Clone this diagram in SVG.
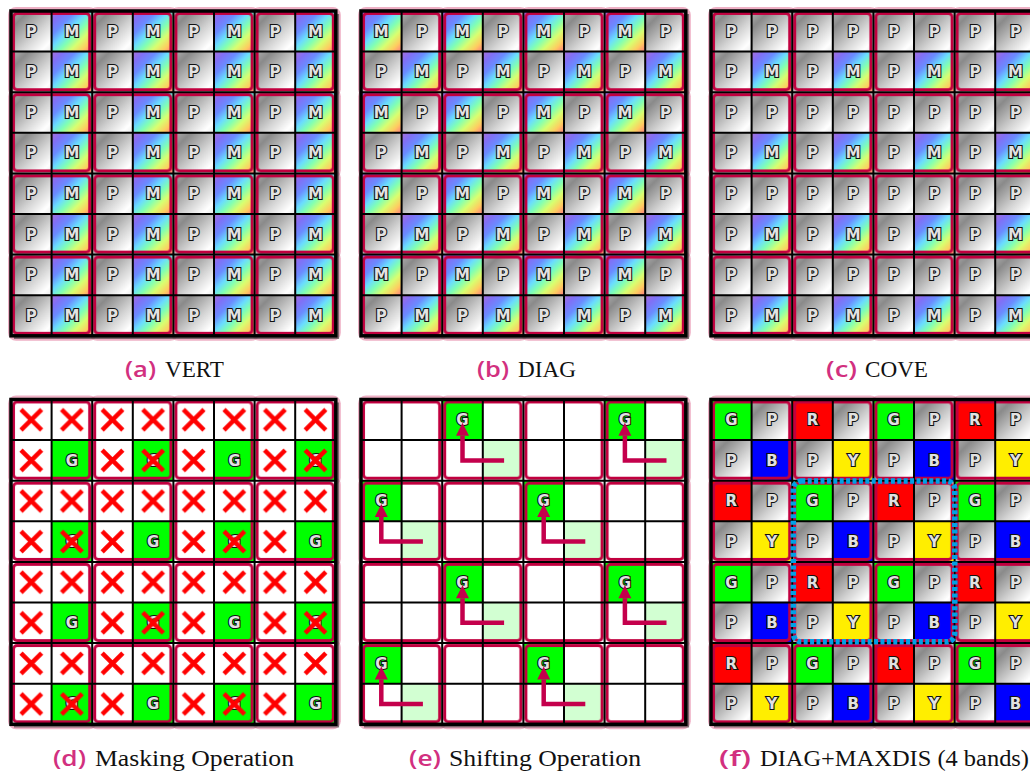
<svg xmlns="http://www.w3.org/2000/svg" xmlns:xlink="http://www.w3.org/1999/xlink" width="1030" height="773" viewBox="0 0 1030 773">
<style>
.t{font-family:'DejaVu Sans',sans-serif;font-weight:bold;font-size:15px;fill:#e2e2e2;stroke:#111;stroke-width:2.2;paint-order:stroke;text-anchor:middle}
.cap{font-family:'Liberation Serif',serif;font-size:23px;fill:#111}
.lab{font-family:'Open Sans','Liberation Sans',sans-serif;font-weight:600;font-size:21px;fill:#d2307f}
.arrow{fill:none;stroke:#c4004c;stroke-width:4.5;stroke-linejoin:miter;marker-end:url(#ah)}
</style>
<defs>
<linearGradient id="gP" x1="0" y1="0" x2="1" y2="1">
<stop offset="0" stop-color="#b0b0b0"/>
<stop offset="0.22" stop-color="#8a8a8a"/>
<stop offset="0.6" stop-color="#d4d4d4"/>
<stop offset="0.86" stop-color="#ffffff"/>
<stop offset="1" stop-color="#ececec"/>
</linearGradient>
<linearGradient id="gM" x1="0" y1="0" x2="1" y2="1">
<stop offset="0" stop-color="#a86ed8"/>
<stop offset="0.15" stop-color="#8070f6"/>
<stop offset="0.3" stop-color="#6a8cff"/>
<stop offset="0.45" stop-color="#6adcff"/>
<stop offset="0.58" stop-color="#80ffb4"/>
<stop offset="0.72" stop-color="#d8ff70"/>
<stop offset="0.86" stop-color="#ffcc60"/>
<stop offset="1" stop-color="#ff7a80"/>
</linearGradient>
<rect id="cP" width="40.6" height="40.6" fill="url(#gP)"/>
<rect id="cM" width="40.6" height="40.6" fill="url(#gM)"/>
<marker id="ah" markerUnits="userSpaceOnUse" markerWidth="14" markerHeight="14" refX="0" refY="6.5" orient="auto" overflow="visible">
<path d="M0 0L13 6.5L0 13z" fill="#c4004c"/>
</marker>
<pattern id="pVert" width="81.2" height="81.2" patternUnits="userSpaceOnUse">
<use href="#cP" x="0" y="0"/><use href="#cM" x="40.6" y="0"/><use href="#cP" x="0" y="40.6"/><use href="#cM" x="40.6" y="40.6"/>
</pattern>
<pattern id="pDiag" width="81.2" height="81.2" patternUnits="userSpaceOnUse">
<use href="#cM" x="0" y="0"/><use href="#cP" x="40.6" y="0"/><use href="#cP" x="0" y="40.6"/><use href="#cM" x="40.6" y="40.6"/>
</pattern>
<pattern id="pCove" width="81.2" height="81.2" patternUnits="userSpaceOnUse">
<use href="#cP" x="0" y="0"/><use href="#cP" x="40.6" y="0"/><use href="#cP" x="0" y="40.6"/><use href="#cM" x="40.6" y="40.6"/>
</pattern>
<pattern id="pMask" width="81.2" height="81.2" patternUnits="userSpaceOnUse">
<rect width="81.2" height="81.2" fill="#fff"/><rect x="40.6" y="40.6" width="40.6" height="40.6" fill="#00ff00"/>
</pattern>
<pattern id="pX" width="40.6" height="40.6" patternUnits="userSpaceOnUse">
<path d="M10 10L30.6 30.6M30.6 10L10 30.6" stroke="#ff0000" stroke-width="4.5"/>
</pattern>
<pattern id="pF" width="162.4" height="162.4" patternUnits="userSpaceOnUse">
<rect x="0" y="0" width="40.6" height="40.6" fill="#00ff00"/><use href="#cP" x="40.6" y="0"/><rect x="81.2" y="0" width="40.6" height="40.6" fill="#ff0000"/><use href="#cP" x="121.8" y="0"/>
<use href="#cP" x="0" y="40.6"/><rect x="40.6" y="40.6" width="40.6" height="40.6" fill="#0000ff"/><use href="#cP" x="81.2" y="40.6"/><rect x="121.8" y="40.6" width="40.6" height="40.6" fill="#ffee00"/>
<rect x="0" y="81.2" width="40.6" height="40.6" fill="#ff0000"/><use href="#cP" x="40.6" y="81.2"/><rect x="81.2" y="81.2" width="40.6" height="40.6" fill="#00ff00"/><use href="#cP" x="121.8" y="81.2"/>
<use href="#cP" x="0" y="121.8"/><rect x="40.6" y="121.8" width="40.6" height="40.6" fill="#ffee00"/><use href="#cP" x="81.2" y="121.8"/><rect x="121.8" y="121.8" width="40.6" height="40.6" fill="#0000ff"/>
</pattern>
<pattern id="pBlk" width="81.2" height="81.2" patternUnits="userSpaceOnUse">
<rect x="2.5" y="2.5" width="76.2" height="76.2" rx="3.5" fill="none" stroke="#c1003f" stroke-width="3"/>
</pattern>
<g id="glow" fill="#e07095" fill-opacity="0.55">
<rect x="-3" y="-4" width="89.2" height="90.2" rx="8"/><rect x="78.2" y="-4" width="89.2" height="90.2" rx="8"/><rect x="159.4" y="-4" width="89.2" height="90.2" rx="8"/><rect x="240.6" y="-4" width="89.2" height="90.2" rx="8"/>
<rect x="-3" y="77.2" width="89.2" height="90.2" rx="8"/><rect x="240.6" y="77.2" width="89.2" height="90.2" rx="8"/>
<rect x="-3" y="158.4" width="89.2" height="90.2" rx="8"/><rect x="240.6" y="158.4" width="89.2" height="90.2" rx="8"/>
<rect x="-3" y="239.6" width="89.2" height="90.2" rx="8"/><rect x="78.2" y="239.6" width="89.2" height="90.2" rx="8"/><rect x="159.4" y="239.6" width="89.2" height="90.2" rx="8"/><rect x="240.6" y="239.6" width="89.2" height="90.2" rx="8"/>
</g>
<g id="frame">
<rect width="324.8" height="324.8" fill="url(#pBlk)"/>
<path d="M40.6 0V324.8M81.2 0V324.8M121.8 0V324.8M162.4 0V324.8M203 0V324.8M243.6 0V324.8M284.2 0V324.8M0 40.6H324.8M0 81.2H324.8M0 121.8H324.8M0 162.4H324.8M0 203H324.8M0 243.6H324.8M0 284.2H324.8" fill="none" stroke="#000" stroke-width="2"/>
<path d="M326.6 3V326.6H3" fill="none" stroke="#333" stroke-opacity="0.6" stroke-width="3"/>
<rect width="324.8" height="324.8" fill="none" stroke="#000" stroke-width="3.5"/>
</g>
</defs>
<rect width="1030" height="773" fill="#fff"/>

<g id="panel-a" transform="translate(11,11)">
<use href="#glow"/>
<rect width="324.8" height="324.8" fill="url(#pVert)"/>
<use href="#frame"/>
<g class="t">
<g transform="translate(0,25.6)"><text x="20.3">P</text><text x="60.9">M</text><text x="101.5">P</text><text x="142.1">M</text><text x="182.7">P</text><text x="223.3">M</text><text x="263.9">P</text><text x="304.5">M</text></g>
<g transform="translate(0,66.2)"><text x="20.3">P</text><text x="60.9">M</text><text x="101.5">P</text><text x="142.1">M</text><text x="182.7">P</text><text x="223.3">M</text><text x="263.9">P</text><text x="304.5">M</text></g>
<g transform="translate(0,106.8)"><text x="20.3">P</text><text x="60.9">M</text><text x="101.5">P</text><text x="142.1">M</text><text x="182.7">P</text><text x="223.3">M</text><text x="263.9">P</text><text x="304.5">M</text></g>
<g transform="translate(0,147.4)"><text x="20.3">P</text><text x="60.9">M</text><text x="101.5">P</text><text x="142.1">M</text><text x="182.7">P</text><text x="223.3">M</text><text x="263.9">P</text><text x="304.5">M</text></g>
<g transform="translate(0,188)"><text x="20.3">P</text><text x="60.9">M</text><text x="101.5">P</text><text x="142.1">M</text><text x="182.7">P</text><text x="223.3">M</text><text x="263.9">P</text><text x="304.5">M</text></g>
<g transform="translate(0,228.6)"><text x="20.3">P</text><text x="60.9">M</text><text x="101.5">P</text><text x="142.1">M</text><text x="182.7">P</text><text x="223.3">M</text><text x="263.9">P</text><text x="304.5">M</text></g>
<g transform="translate(0,269.2)"><text x="20.3">P</text><text x="60.9">M</text><text x="101.5">P</text><text x="142.1">M</text><text x="182.7">P</text><text x="223.3">M</text><text x="263.9">P</text><text x="304.5">M</text></g>
<g transform="translate(0,309.8)"><text x="20.3">P</text><text x="60.9">M</text><text x="101.5">P</text><text x="142.1">M</text><text x="182.7">P</text><text x="223.3">M</text><text x="263.9">P</text><text x="304.5">M</text></g>
</g>
</g>

<g id="panel-b" transform="translate(361,11)">
<use href="#glow"/>
<rect width="324.8" height="324.8" fill="url(#pDiag)"/>
<use href="#frame"/>
<g class="t">
<g transform="translate(0,25.6)"><text x="20.3">M</text><text x="60.9">P</text><text x="101.5">M</text><text x="142.1">P</text><text x="182.7">M</text><text x="223.3">P</text><text x="263.9">M</text><text x="304.5">P</text></g>
<g transform="translate(0,66.2)"><text x="20.3">P</text><text x="60.9">M</text><text x="101.5">P</text><text x="142.1">M</text><text x="182.7">P</text><text x="223.3">M</text><text x="263.9">P</text><text x="304.5">M</text></g>
<g transform="translate(0,106.8)"><text x="20.3">M</text><text x="60.9">P</text><text x="101.5">M</text><text x="142.1">P</text><text x="182.7">M</text><text x="223.3">P</text><text x="263.9">M</text><text x="304.5">P</text></g>
<g transform="translate(0,147.4)"><text x="20.3">P</text><text x="60.9">M</text><text x="101.5">P</text><text x="142.1">M</text><text x="182.7">P</text><text x="223.3">M</text><text x="263.9">P</text><text x="304.5">M</text></g>
<g transform="translate(0,188)"><text x="20.3">M</text><text x="60.9">P</text><text x="101.5">M</text><text x="142.1">P</text><text x="182.7">M</text><text x="223.3">P</text><text x="263.9">M</text><text x="304.5">P</text></g>
<g transform="translate(0,228.6)"><text x="20.3">P</text><text x="60.9">M</text><text x="101.5">P</text><text x="142.1">M</text><text x="182.7">P</text><text x="223.3">M</text><text x="263.9">P</text><text x="304.5">M</text></g>
<g transform="translate(0,269.2)"><text x="20.3">M</text><text x="60.9">P</text><text x="101.5">M</text><text x="142.1">P</text><text x="182.7">M</text><text x="223.3">P</text><text x="263.9">M</text><text x="304.5">P</text></g>
<g transform="translate(0,309.8)"><text x="20.3">P</text><text x="60.9">M</text><text x="101.5">P</text><text x="142.1">M</text><text x="182.7">P</text><text x="223.3">M</text><text x="263.9">P</text><text x="304.5">M</text></g>
</g>
</g>

<g id="panel-c" transform="translate(711,11)">
<use href="#glow"/>
<rect width="324.8" height="324.8" fill="url(#pCove)"/>
<use href="#frame"/>
<g class="t">
<g transform="translate(0,25.6)"><text x="20.3">P</text><text x="60.9">P</text><text x="101.5">P</text><text x="142.1">P</text><text x="182.7">P</text><text x="223.3">P</text><text x="263.9">P</text><text x="304.5">P</text></g>
<g transform="translate(0,66.2)"><text x="20.3">P</text><text x="60.9">M</text><text x="101.5">P</text><text x="142.1">M</text><text x="182.7">P</text><text x="223.3">M</text><text x="263.9">P</text><text x="304.5">M</text></g>
<g transform="translate(0,106.8)"><text x="20.3">P</text><text x="60.9">P</text><text x="101.5">P</text><text x="142.1">P</text><text x="182.7">P</text><text x="223.3">P</text><text x="263.9">P</text><text x="304.5">P</text></g>
<g transform="translate(0,147.4)"><text x="20.3">P</text><text x="60.9">M</text><text x="101.5">P</text><text x="142.1">M</text><text x="182.7">P</text><text x="223.3">M</text><text x="263.9">P</text><text x="304.5">M</text></g>
<g transform="translate(0,188)"><text x="20.3">P</text><text x="60.9">P</text><text x="101.5">P</text><text x="142.1">P</text><text x="182.7">P</text><text x="223.3">P</text><text x="263.9">P</text><text x="304.5">P</text></g>
<g transform="translate(0,228.6)"><text x="20.3">P</text><text x="60.9">M</text><text x="101.5">P</text><text x="142.1">M</text><text x="182.7">P</text><text x="223.3">M</text><text x="263.9">P</text><text x="304.5">M</text></g>
<g transform="translate(0,269.2)"><text x="20.3">P</text><text x="60.9">P</text><text x="101.5">P</text><text x="142.1">P</text><text x="182.7">P</text><text x="223.3">P</text><text x="263.9">P</text><text x="304.5">P</text></g>
<g transform="translate(0,309.8)"><text x="20.3">P</text><text x="60.9">M</text><text x="101.5">P</text><text x="142.1">M</text><text x="182.7">P</text><text x="223.3">M</text><text x="263.9">P</text><text x="304.5">M</text></g>
</g>
</g>

<g id="panel-d" transform="translate(11,399.5)">
<use href="#glow"/>
<rect width="324.8" height="324.8" fill="url(#pMask)"/>
<g class="t">
<text x="142.1" y="66.2">G</text><text x="304.5" y="66.2">G</text>
<text x="60.9" y="147.4">G</text><text x="223.3" y="147.4">G</text>
<text x="142.1" y="228.6">G</text><text x="304.5" y="228.6">G</text>
<text x="60.9" y="309.8">G</text><text x="223.3" y="309.8">G</text>
</g>
<rect width="324.8" height="324.8" fill="url(#pX)"/>
<g fill="#00ff00">
<rect x="40.6" y="40.6" width="40.6" height="40.6"/><rect x="203" y="40.6" width="40.6" height="40.6"/>
<rect x="121.8" y="121.8" width="40.6" height="40.6"/><rect x="284.2" y="121.8" width="40.6" height="40.6"/>
<rect x="40.6" y="203" width="40.6" height="40.6"/><rect x="203" y="203" width="40.6" height="40.6"/>
<rect x="121.8" y="284.2" width="40.6" height="40.6"/><rect x="284.2" y="284.2" width="40.6" height="40.6"/>
</g>
<use href="#frame"/>
<g class="t">
<text x="60.9" y="66.2">G</text><text x="223.3" y="66.2">G</text>
<text x="142.1" y="147.4">G</text><text x="304.5" y="147.4">G</text>
<text x="60.9" y="228.6">G</text><text x="223.3" y="228.6">G</text>
<text x="142.1" y="309.8">G</text><text x="304.5" y="309.8">G</text>
</g>
</g>

<g id="panel-e" transform="translate(361,399.5)">
<use href="#glow"/>
<rect width="324.8" height="324.8" fill="#fff"/>
<g fill="#00ff00">
<rect x="81.2" y="0" width="40.6" height="40.6"/><rect x="243.6" y="0" width="40.6" height="40.6"/>
<rect x="0" y="81.2" width="40.6" height="40.6"/><rect x="162.4" y="81.2" width="40.6" height="40.6"/>
<rect x="81.2" y="162.4" width="40.6" height="40.6"/><rect x="243.6" y="162.4" width="40.6" height="40.6"/>
<rect x="0" y="243.6" width="40.6" height="40.6"/><rect x="162.4" y="243.6" width="40.6" height="40.6"/>
</g>
<g fill="#d2ffd2">
<rect x="121.8" y="40.6" width="40.6" height="40.6"/><rect x="284.2" y="40.6" width="40.6" height="40.6"/>
<rect x="40.6" y="121.8" width="40.6" height="40.6"/><rect x="203" y="121.8" width="40.6" height="40.6"/>
<rect x="121.8" y="203" width="40.6" height="40.6"/><rect x="284.2" y="203" width="40.6" height="40.6"/>
<rect x="40.6" y="284.2" width="40.6" height="40.6"/><rect x="203" y="284.2" width="40.6" height="40.6"/>
</g>
<use href="#frame"/>
<g class="t">
<text x="101.5" y="25.6">G</text><text x="263.9" y="25.6">G</text>
<text x="20.3" y="106.8">G</text><text x="182.7" y="106.8">G</text>
<text x="101.5" y="188">G</text><text x="263.9" y="188">G</text>
<text x="20.3" y="269.2">G</text><text x="182.7" y="269.2">G</text>
</g>
</g>

<g id="connectors" transform="translate(361,399.5)">
<path class="arrow" d="M143.1 60.9H101.5V36.3"/>
<path class="arrow" d="M305.5 60.9H263.9V36.3"/>
<path class="arrow" d="M61.9 142.1H20.3V117.5"/>
<path class="arrow" d="M224.3 142.1H182.7V117.5"/>
<path class="arrow" d="M143.1 223.3H101.5V198.7"/>
<path class="arrow" d="M305.5 223.3H263.9V198.7"/>
<path class="arrow" d="M61.9 304.5H20.3V279.9"/>
<path class="arrow" d="M224.3 304.5H182.7V279.9"/>
</g>

<g id="panel-f" transform="translate(711,399.5)">
<use href="#glow"/>
<rect width="324.8" height="324.8" fill="url(#pF)"/>
<use href="#frame"/>
<g class="t">
<g transform="translate(0,25.6)"><text x="20.3">G</text><text x="60.9">P</text><text x="101.5">R</text><text x="142.1">P</text><text x="182.7">G</text><text x="223.3">P</text><text x="263.9">R</text><text x="304.5">P</text></g>
<g transform="translate(0,66.2)"><text x="20.3">P</text><text x="60.9">B</text><text x="101.5">P</text><text x="142.1">Y</text><text x="182.7">P</text><text x="223.3">B</text><text x="263.9">P</text><text x="304.5">Y</text></g>
<g transform="translate(0,106.8)"><text x="20.3">R</text><text x="60.9">P</text><text x="101.5">G</text><text x="142.1">P</text><text x="182.7">R</text><text x="223.3">P</text><text x="263.9">G</text><text x="304.5">P</text></g>
<g transform="translate(0,147.4)"><text x="20.3">P</text><text x="60.9">Y</text><text x="101.5">P</text><text x="142.1">B</text><text x="182.7">P</text><text x="223.3">Y</text><text x="263.9">P</text><text x="304.5">B</text></g>
<g transform="translate(0,188)"><text x="20.3">G</text><text x="60.9">P</text><text x="101.5">R</text><text x="142.1">P</text><text x="182.7">G</text><text x="223.3">P</text><text x="263.9">R</text><text x="304.5">P</text></g>
<g transform="translate(0,228.6)"><text x="20.3">P</text><text x="60.9">B</text><text x="101.5">P</text><text x="142.1">Y</text><text x="182.7">P</text><text x="223.3">B</text><text x="263.9">P</text><text x="304.5">Y</text></g>
<g transform="translate(0,269.2)"><text x="20.3">R</text><text x="60.9">P</text><text x="101.5">G</text><text x="142.1">P</text><text x="182.7">R</text><text x="223.3">P</text><text x="263.9">G</text><text x="304.5">P</text></g>
<g transform="translate(0,309.8)"><text x="20.3">P</text><text x="60.9">Y</text><text x="101.5">P</text><text x="142.1">B</text><text x="182.7">P</text><text x="223.3">Y</text><text x="263.9">P</text><text x="304.5">B</text></g>
</g>
<g id="window">
<rect x="82.3" y="81.5" width="161.5" height="160.8" rx="8" fill="none" stroke="#00a0e6" stroke-width="5.5" stroke-dasharray="4 2.4"/>
</g>
</g>

<g id="captions">
<text class="lab" x="125" y="377" textLength="31" lengthAdjust="spacingAndGlyphs">(a)</text>
<text class="cap" x="165" y="377" textLength="59" lengthAdjust="spacingAndGlyphs">VERT</text>
<text class="lab" x="477" y="377" textLength="32" lengthAdjust="spacingAndGlyphs">(b)</text>
<text class="cap" x="518" y="377" textLength="58" lengthAdjust="spacingAndGlyphs">DIAG</text>
<text class="lab" x="826" y="377" textLength="31" lengthAdjust="spacingAndGlyphs">(c)</text>
<text class="cap" x="865" y="377" textLength="63" lengthAdjust="spacingAndGlyphs">COVE</text>
<text class="lab" x="53" y="766" textLength="33" lengthAdjust="spacingAndGlyphs">(d)</text>
<text class="cap" x="95" y="766" textLength="199" lengthAdjust="spacingAndGlyphs">Masking Operation</text>
<text class="lab" x="409" y="766" textLength="32" lengthAdjust="spacingAndGlyphs">(e)</text>
<text class="cap" x="449" y="766" textLength="192" lengthAdjust="spacingAndGlyphs">Shifting Operation</text>
<text class="lab" x="719" y="766" textLength="32" lengthAdjust="spacingAndGlyphs">(f)</text>
<text class="cap" x="760" y="766" textLength="269" lengthAdjust="spacingAndGlyphs">DIAG+MAXDIS (4 bands)</text>
</g>
</svg>
